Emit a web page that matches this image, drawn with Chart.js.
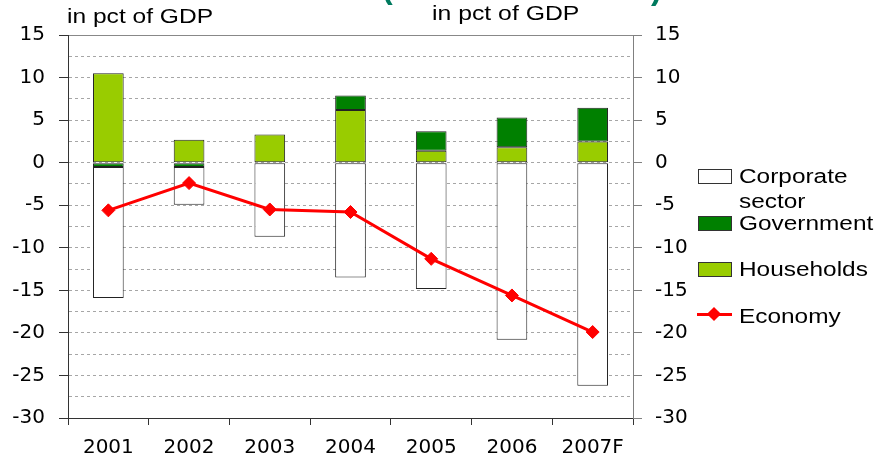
<!DOCTYPE html>
<html>
<head>
<meta charset="utf-8">
<script src="https://cdn.jsdelivr.net/npm/chart.js@4/dist/chart.umd.min.js"></script>
<style>
  body { margin: 0; background: #fff; }
  #wrap { position: relative; width: 879px; height: 464px; overflow: hidden; font-family: 'Liberation Sans', Arial, sans-serif; }
  .txt { position: absolute; white-space: nowrap; color: #000; transform-origin: left top; }
  .unit { font-size: 21px; line-height: 21px; }
  .leg { font-size: 20px; line-height: 20px; transform: scaleX(1.22); }
  .box { position: absolute; width: 32px; height: 13px; border: 1px solid #333; }
  .paren { position: absolute; font-size: 32px; line-height: 32px; font-weight: bold; color: #007a5e; }
</style>
</head>
<body>
<div id="wrap">
  <canvas id="chart"></canvas>

  <!-- cut-off heading fragments -->
  <div class="paren" style="left:382px; top:-29px;">(</div>
  <div class="paren" style="left:651px; top:-28px;">)</div>

  <div class="txt unit" style="left:67px; top:5px; transform: scaleX(1.17);">in pct of GDP</div>
  <div class="txt unit" style="left:432px; top:2px; transform: scaleX(1.18);">in pct of GDP</div>

  <!-- legend -->
  <div class="box" style="left:698px; top:169px; background:#fff;"></div>
  <div class="txt leg" style="left:739px; top:166px;">Corporate</div>
  <div class="txt leg" style="left:739px; top:191px;">sector</div>
  <div class="box" style="left:698px; top:216px; background:#008000;"></div>
  <div class="txt leg" style="left:739px; top:213px;">Government</div>
  <div class="box" style="left:698px; top:262px; background:#99cc00;"></div>
  <div class="txt leg" style="left:739px; top:259px;">Households</div>
  <div style="position:absolute; left:697px; top:313px; width:35px; height:3px; background:#ff0000;"></div>
  <div style="position:absolute; left:709px; top:309px; width:10px; height:10px; background:#ff0000; transform: rotate(45deg);"></div>
  <div class="txt leg" style="left:739px; top:306px;">Economy</div>
</div>

<script>
// Savings-investment balance by sector, in pct of GDP
const years = ['2001', '2002', '2003', '2004', '2005', '2006', '2007F'];
const households = [10.5, 2.7, 3.3, 6.2, 1.4, 1.8, 2.5];
const government = [-0.5, -0.5, 0, 1.7, 2.3, 3.5, 3.95];
const corporate = [-15.4, -4.45, -8.7, -13.5, -14.85, -20.8, -26.2];
const economy = [-5.6, -2.4, -5.5, -5.8, -11.3, -15.6, -19.9];

const yMin = -30;
const yMax = 15;

// wider face than Arial, closer to the stretched labels of the original
const tickFont = { family: "'DejaVu Sans', 'Liberation Sans', sans-serif", size: 20 };

const barStyle = {
    borderColor: '#222',
    borderWidth: 1,
    borderSkipped: false,
    categoryPercentage: 1,
    barPercentage: 0.38,
    yAxisID: 'y',
    order: 1
};

new Chart(document.getElementById('chart'), {
    type: 'bar',
    data: {
        labels: years,
        datasets: [
            { ...barStyle, label: 'Households', data: households, backgroundColor: '#99cc00' },
            { ...barStyle, label: 'Government', data: government, backgroundColor: '#008000' },
            { ...barStyle, label: 'Corporate sector', data: corporate, backgroundColor: '#ffffff' },
            {
                type: 'line',
                label: 'Economy',
                data: economy,
                yAxisID: 'y2',
                order: 0,
                borderColor: '#ff0000',
                backgroundColor: '#ff0000',
                borderWidth: 3,
                pointStyle: 'rectRot',
                pointRadius: 6.5,
                pointBorderWidth: 1,
                tension: 0
            }
        ]
    },
    options: {
        responsive: true,
        maintainAspectRatio: false,
        animation: false,
        layout: { padding: { top: 35, left: 0, right: 0, bottom: 0 } },
        plugins: {
            legend: { display: false },
            tooltip: { enabled: false }
        },
        scales: {
            x: {
                stacked: true,
                afterFit: (scale) => { scale.height = 46; },
                grid: { drawOnChartArea: false, offset: true, tickLength: 7, tickColor: '#333' },
                border: { color: '#333', width: 1 },
                ticks: { font: tickFont, color: '#000', padding: 11, maxRotation: 0 }
            },
            y: {
                position: 'left',
                stacked: true,
                min: yMin,
                max: yMax,
                afterFit: (scale) => { scale.width = 68; },
                ticks: {
                    stepSize: 2.5,
                    autoSkip: false,
                    font: tickFont,
                    color: '#000',
                    padding: 14,
                    callback: (val) => (val % 5 === 0 ? val : '')
                },
                grid: {
                    lineWidth: 1,
                    tickLength: 9,
                    color: (ctx) => {
                        if (!ctx.tick) return '#a6a6a6';
                        if (ctx.tick.value === yMax) return '#888';
                        if (ctx.tick.value === yMin) return 'rgba(0,0,0,0)';
                        return '#a6a6a6';
                    },
                    tickColor: (ctx) => (ctx.tick && ctx.tick.value % 5 === 0 ? '#333' : 'rgba(0,0,0,0)')
                },
                border: {
                    color: '#333',
                    width: 1,
                    dash: (ctx) => (ctx.tick && ctx.tick.value === yMax ? [] : [3, 3])
                }
            },
            y2: {
                position: 'right',
                min: yMin,
                max: yMax,
                afterFit: (scale) => { scale.width = 246; },
                ticks: { stepSize: 5, font: tickFont, color: '#000', padding: 13 },
                grid: { drawOnChartArea: false, tickLength: 9, tickColor: '#808080' },
                border: { color: '#808080', width: 1 }
            }
        }
    }
});
</script>
</body>
</html>
